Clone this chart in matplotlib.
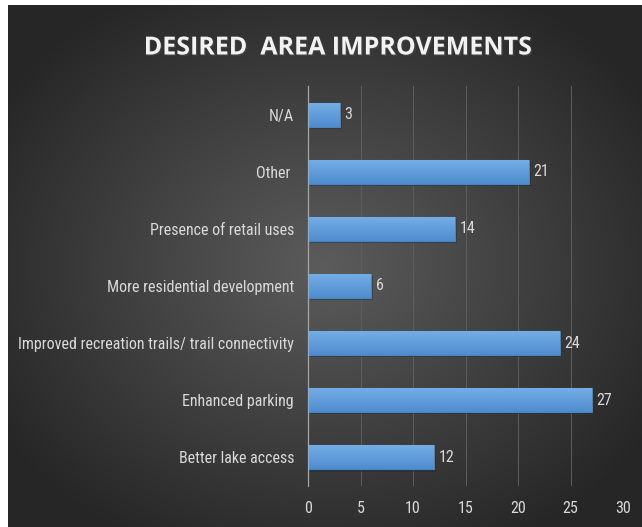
import numpy as np
import matplotlib.pyplot as plt
import matplotlib.patheffects as pe
from matplotlib import font_manager

categories = ['Better lake access', 'Enhanced parking',
              'Improved recreation trails/ trail connectivity',
              'More residential development', 'Presence of retail uses',
              'Other ', 'N/A']
counts = [12, 27, 24, 6, 14, 21, 3]
xticks = [0, 5, 10, 15, 20, 25, 30]

# pick a narrow face if one is around, Roboto otherwise
names = {f.name for f in font_manager.fontManager.ttflist}
narrow = 'Roboto'
for cand in ['Liberation Sans Narrow', 'Roboto Condensed', 'Open Sans Condensed',
             'DejaVu Sans Condensed']:
    if cand in names:
        narrow = cand
        break
txt = '#d9d9d9'

fig = plt.figure(figsize=(6.42, 5.27), dpi=100)
fig.patch.set_facecolor('white')

# radial gradient backdrop
bg = fig.add_axes([8 / 642, 0, 1 - 8 / 642, 1 - 5 / 527])
bg.set_axis_off()
yy, xx = np.mgrid[0:1:400j, 0:1:500j]
r = np.sqrt(((xx - 0.5) / 0.75) ** 2 + ((yy - 0.5) / 0.75) ** 2)
shade = np.clip(0.36 - 0.26 * r, 0.15, 0.36)
bg.imshow(np.dstack([shade] * 3), aspect='auto', extent=[0, 1, 0, 1])

ax = fig.add_axes([308 / 642, 1 - 486 / 527, 315 / 642, 400 / 527])
ax.patch.set_alpha(0)
y = np.arange(len(categories))
bars = ax.barh(y, counts, height=0.42, color='#5b9bd5', edgecolor='#4a84bd',
               linewidth=0.8, zorder=3)

grad = np.linspace(0, 1, 50).reshape(-1, 1)
top = np.array([0.45, 0.68, 0.90])
bot = np.array([0.31, 0.55, 0.81])
img = bot + (top - bot) * grad[..., None]
for b in bars:
    b.set_path_effects([pe.SimplePatchShadow(offset=(1.5, -1.5), alpha=0.5), pe.Normal()])
    x0, y0, w, h = b.get_x(), b.get_y(), b.get_width(), b.get_height()
    im = ax.imshow(img, extent=[x0, x0 + w, y0, y0 + h], origin='lower',
                   aspect='auto', zorder=3.5)
    im.set_clip_path(b)

ax.set_xlim(0, 30)
ax.set_ylim(-0.5, len(categories) - 0.5)
ax.set_xticks(xticks)
ax.set_yticks(y)
ax.set_yticklabels(categories, family=narrow, fontsize=11.5, color=txt)
ax.tick_params(axis='y', length=0, pad=10)
ax.tick_params(axis='x', length=0, pad=11, labelcolor=txt, labelsize=11.5)
for lab in ax.get_xticklabels():
    lab.set_family(narrow)

# shrink the category labels until the longest fits the left margin
renderer = fig.canvas.get_renderer()
size = 11.5
while size > 7:
    widest = max(l.get_window_extent(renderer).width for l in ax.get_yticklabels())
    if widest <= 276:
        break
    size -= 0.25
    for l in ax.get_yticklabels():
        l.set_fontsize(size)

for yi, v in zip(y, counts):
    ax.text(v + 0.45, yi, str(v), va='center', ha='left', color=txt,
            fontsize=11.5, family=narrow, zorder=5)

ax.grid(axis='x', color='#5e5e5e', linewidth=0.7, zorder=0)
for s in ['top', 'right', 'bottom']:
    ax.spines[s].set_visible(False)
ax.spines['left'].set_color('#a6a6a6')
ax.spines['left'].set_linewidth(0.9)
ax.spines['left'].set_zorder(4)

fig.text(338 / 642, 1 - 48 / 527, 'DESIRED  AREA IMPROVEMENTS', ha='center',
         va='center', color='#f2f2f2', fontsize=18, fontweight='bold',
         family='Open Sans',
         path_effects=[pe.withSimplePatchShadow(offset=(1, -1), alpha=0.6)])

fig.savefig('out.png', dpi=100)
